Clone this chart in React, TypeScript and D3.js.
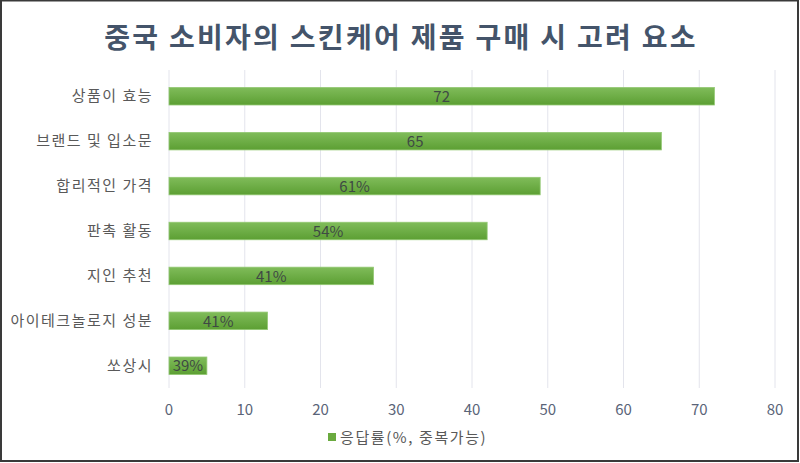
import React, { useEffect, useRef } from 'react';
import * as d3 from 'd3';

// chart values
const categories = ['상품이 효능', '브랜드 및 입소문', '합리적인 가격', '판촉 활동', '지인 추천', '아이테크놀로지 성분', '쏘상시'];
const values = [72, 65, 49, 42, 27, 13, 5];
const valueLabels = ['72', '65', '61%', '54%', '41%', '41%', '39%'];
const xTicks = [0, 10, 20, 30, 40, 50, 60, 70, 80];

const title = '중국 소비자의 스킨케어 제품 구매 시 고려 요소';
const legendLabel = '응답률(%, 중복가능)';

const FONT = '"Noto Sans CJK KR", "Noto Sans", sans-serif';

const App = () => {
  const ref = useRef<SVGSVGElement>(null);

  useEffect(() => {
    if (!ref.current) return;
    const width = 800, height = 463;
    const margin = { top: 74, right: 25, bottom: 75, left: 169 };

    const svg = d3.select(ref.current);
    svg.selectAll('*').remove();

    // bar gradient
    const defs = svg.append('defs');
    const grad = defs.append('linearGradient')
      .attr('id', 'barGrad')
      .attr('x1', 0).attr('y1', 0).attr('x2', 0).attr('y2', 1);
    grad.append('stop').attr('offset', '0%').attr('stop-color', '#80bc5a');
    grad.append('stop').attr('offset', '100%').attr('stop-color', '#5c9f33');

    svg.append('rect')
      .attr('width', width).attr('height', height)
      .attr('fill', '#fff');

    // outer frame
    svg.append('rect')
      .attr('x', 1).attr('y', 0.5)
      .attr('width', 797).attr('height', 460.5)
      .attr('fill', 'none')
      .attr('stroke', '#3a3a3a')
      .attr('stroke-width', 2);

    svg.append('text')
      .attr('x', 401).attr('y', 48)
      .attr('text-anchor', 'middle')
      .attr('font-family', FONT)
      .attr('font-size', 28)
      .attr('font-weight', 'bold')
      .attr('letter-spacing', 2.3)
      .attr('fill', '#44546a')
      .text(title);

    const x = d3.scaleLinear()
      .domain([0, 80])
      .range([margin.left, width - margin.right]);

    const y = d3.scaleBand()
      .domain(categories)
      .range([margin.top, height - margin.bottom])
      .paddingInner(0.61)
      .paddingOuter(0.3);

    // vertical gridlines
    svg.append('g')
      .selectAll('line')
      .data(xTicks)
      .join('line')
      .attr('x1', d => x(d)).attr('x2', d => x(d))
      .attr('y1', 70).attr('y2', height - margin.bottom)
      .attr('stroke', '#e3e4ec')
      .attr('stroke-width', 1);

    // x tick labels
    svg.append('g')
      .selectAll('text')
      .data(xTicks)
      .join('text')
      .attr('x', d => x(d))
      .attr('y', 415)
      .attr('text-anchor', 'middle')
      .attr('font-family', FONT)
      .attr('font-size', 15)
      .attr('fill', '#5a6478')
      .text(d => d);

    // category labels
    svg.append('g')
      .selectAll('text')
      .data(categories)
      .join('text')
      .attr('x', 153)
      .attr('y', d => (y(d) ?? 0) + y.bandwidth() / 2)
      .attr('dy', '0.35em')
      .attr('text-anchor', 'end')
      .attr('font-family', FONT)
      .attr('font-size', 15)
      .attr('letter-spacing', 1.5)
      .attr('fill', '#595959')
      .text(d => d);

    const data = categories.map((c, i) => ({ c, v: values[i], label: valueLabels[i] }));

    // bars
    svg.append('g')
      .selectAll('rect')
      .data(data)
      .join('rect')
      .attr('x', x(0))
      .attr('y', d => y(d.c) ?? 0)
      .attr('width', d => x(d.v) - x(0))
      .attr('height', y.bandwidth())
      .attr('fill', 'url(#barGrad)')
      .attr('stroke', '#93c873')
      .attr('stroke-width', 0.8);

    // value labels centred in bars
    svg.append('g')
      .selectAll('text')
      .data(data)
      .join('text')
      .attr('x', d => (x(0) + x(d.v)) / 2)
      .attr('y', d => (y(d.c) ?? 0) + y.bandwidth() / 2)
      .attr('dy', '0.38em')
      .attr('text-anchor', 'middle')
      .attr('font-family', FONT)
      .attr('font-size', 15)
      .attr('fill', '#3f4a44')
      .text(d => d.label);

    // legend
    const lg = svg.append('g').attr('transform', 'translate(328,438)');
    lg.append('rect')
      .attr('x', 0).attr('y', -5)
      .attr('width', 8).attr('height', 8)
      .attr('fill', '#6aaa3f');
    lg.append('text')
      .attr('x', 12).attr('y', 0)
      .attr('dy', '0.35em')
      .attr('font-family', FONT)
      .attr('font-size', 15)
      .attr('letter-spacing', 1.6)
      .attr('fill', '#595959')
      .text(legendLabel);
  }, []);

  return (
    <svg
      ref={ref}
      width={800}
      height={463}
      style={{ position: 'absolute', left: 0, top: 0, display: 'block' }}
    />
  );
};

export default App;
